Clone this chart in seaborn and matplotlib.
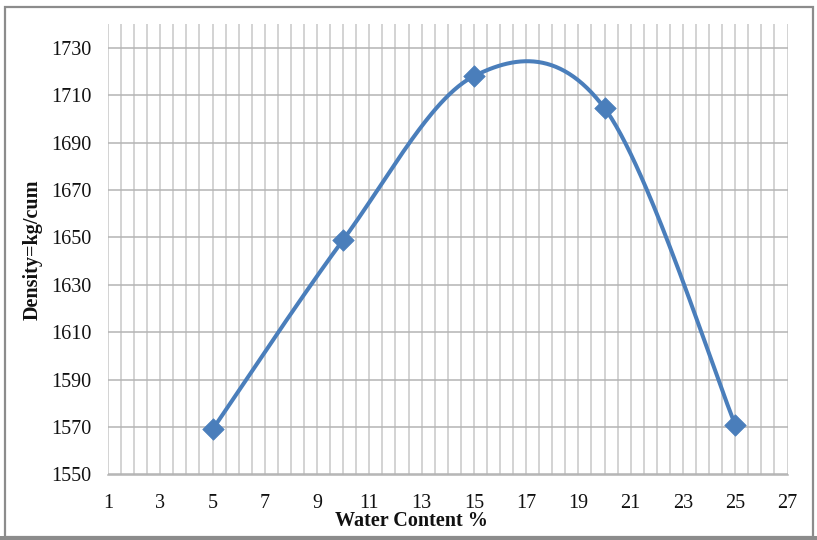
import numpy as np
import pandas as pd
import matplotlib
matplotlib.use("Agg")
import matplotlib.pyplot as plt
import seaborn as sns
from matplotlib.patches import Rectangle

# Compaction test results
water_content = [5, 10, 15, 20, 25]          # %
density = [1569, 1649, 1718, 1704.5, 1571]    # kg/cum

x_ticks = list(range(1, 28, 2))
y_ticks = list(range(1550, 1731, 20))


def smooth_curve(xs, ys, n=60):
    """Spreadsheet-style smoothed line: cubic Bezier segments with
    Catmull-Rom control points (tension 1/6)."""
    p = np.column_stack([xs, ys]).astype(float)
    pts = np.vstack([p[0], p, p[-1]])
    out = []
    t = np.linspace(0, 1, n)[:, None]
    for i in range(1, len(pts) - 2):
        p0, p1, p2, p3 = pts[i - 1], pts[i], pts[i + 1], pts[i + 2]
        c1 = p1 + (p2 - p0) / 6.0
        c2 = p2 - (p3 - p1) / 6.0
        seg = ((1 - t) ** 3) * p1 + 3 * ((1 - t) ** 2) * t * c1 \
            + 3 * (1 - t) * t ** 2 * c2 + t ** 3 * p2
        out.append(seg if i == 1 else seg[1:])
    curve = np.vstack(out)
    return curve[:, 0], curve[:, 1]


sns.set_theme(style="white")
plt.rcParams["font.family"] = ["Liberation Serif", "DejaVu Serif"]

W, H = 817, 540
fig = plt.figure(figsize=(W / 100, H / 100), dpi=100)
left, right, top, bottom = 108, 787.5, 24, 474.5
ax = fig.add_axes([left / W, 1 - bottom / H, (right - left) / W, (bottom - top) / H])

line_color = "#4a7ebb"
sx, sy = smooth_curve(water_content, density)
curve_df = pd.DataFrame({"w": sx, "d": sy})
pts_df = pd.DataFrame({"w": water_content, "d": density})

sns.lineplot(data=curve_df, x="w", y="d", sort=False, color=line_color,
             linewidth=2.9, ax=ax, zorder=3)
sns.scatterplot(data=pts_df, x="w", y="d", marker="D", s=120, color=line_color,
                edgecolor=line_color, linewidth=0.5, ax=ax, zorder=4)

ax.set_xlim(1, 27)
ax.set_ylim(1550, 1740)
ax.set_xticks(x_ticks)
ax.set_xticks(np.arange(1, 27.01, 0.5), minor=True)
ax.set_yticks(y_ticks)

ax.grid(True, which="major", axis="y", color="#b4b4b4", linewidth=1.1)
ax.grid(True, which="both", axis="x", color="#c8c8c8", linewidth=1.1)
ax.set_axisbelow(True)
for side in ["top", "right", "left"]:
    ax.spines[side].set_visible(False)
ax.spines["bottom"].set_color("#b4b4b4")
ax.spines["bottom"].set_linewidth(1.1)

ax.tick_params(axis="both", which="both", length=0, labelsize=14.5, colors="#111111")
ax.tick_params(axis="x", pad=14)
ax.tick_params(axis="y", pad=12)

ax.set_xlabel("Water Content %", fontsize=14.5, fontweight="bold", color="#111111")
ax.set_ylabel("Density=kg/cum", fontsize=14.5, fontweight="bold", color="#111111")
ax.xaxis.label.set_va("center")
ax.yaxis.label.set_va("center")
ax.xaxis.set_label_coords((411 - left) / (right - left), (bottom - 521) / (bottom - top))
ax.yaxis.set_label_coords((33 - left) / (right - left), 0.5)

# chart-area frame
fig.patches.append(Rectangle((5 / W, 1 - 537 / H), 808 / W, 530 / H,
                             transform=fig.transFigure, fill=False,
                             edgecolor="#8c8c8c", linewidth=1.6))
fig.patches.append(Rectangle((0, 0), 1, 4 / H, transform=fig.transFigure,
                             facecolor="#8c8c8c", edgecolor="none"))

fig.savefig("out.png", dpi=100)
